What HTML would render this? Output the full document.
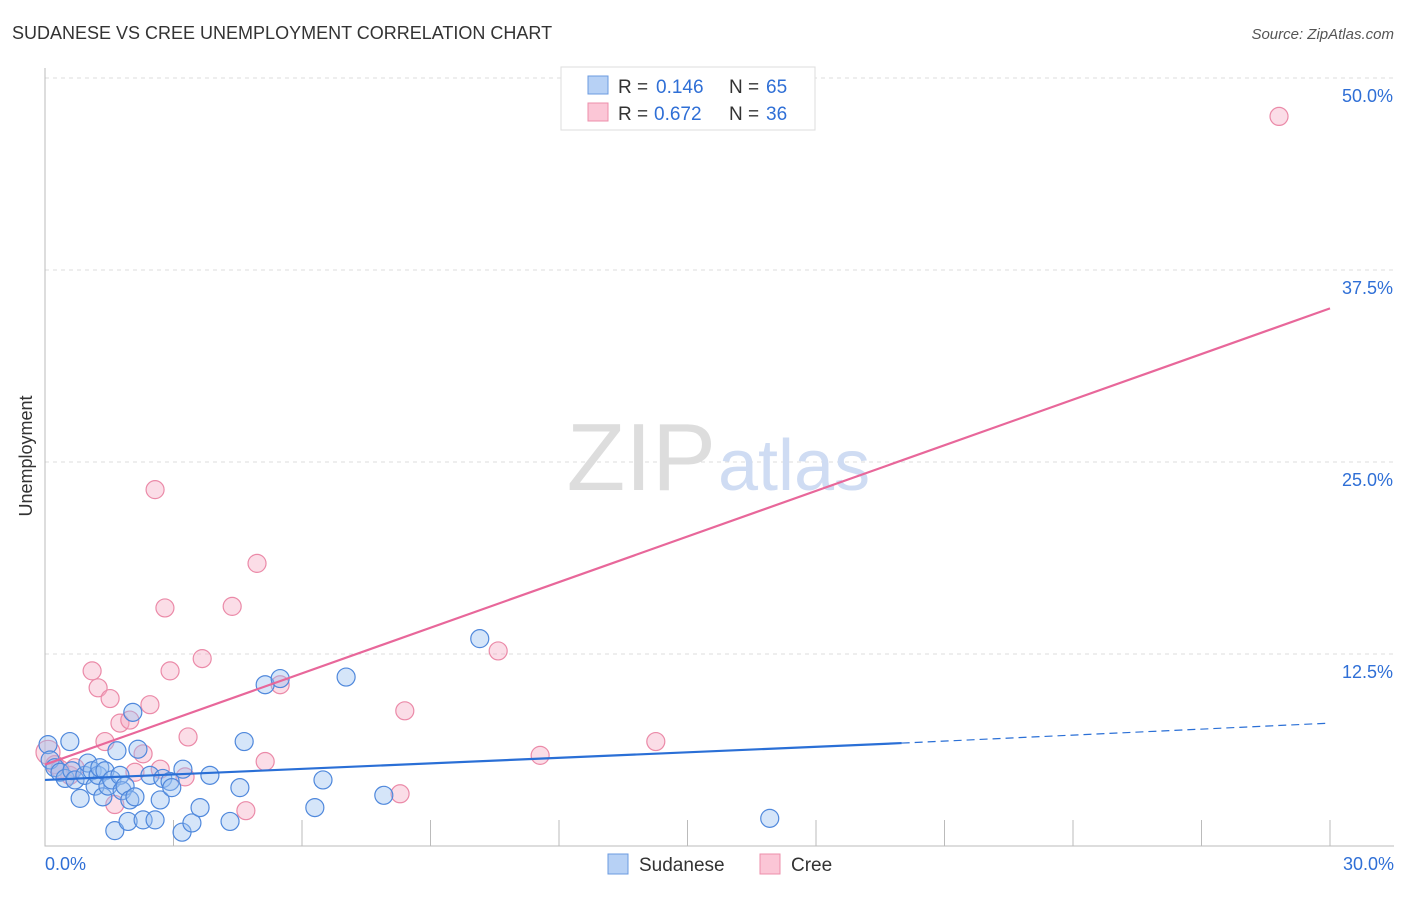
<!DOCTYPE html>
<html><head><meta charset="utf-8"><style>
body{margin:0;background:#fff;font-family:"Liberation Sans",sans-serif;}
svg text{font-family:"Liberation Sans",sans-serif;}
</style></head><body>
<svg width="1406" height="892" xmlns="http://www.w3.org/2000/svg">
<text x="12" y="39" font-size="18" fill="#333">SUDANESE VS CREE UNEMPLOYMENT CORRELATION CHART</text>
<text x="1394" y="39" font-size="15" fill="#555" text-anchor="end" font-style="italic">Source: ZipAtlas.com</text>
<text x="32" y="456" font-size="18" fill="#333" text-anchor="middle" transform="rotate(-90 32 456)">Unemployment</text>
<g id="grid"></g>
<text x="716" y="490" font-size="96" fill="#ddd" text-anchor="end" font-family="Liberation Serif">ZIP</text>
<text x="718" y="490" font-size="72" fill="#cfdcf3">atlas</text>
<g id="pts"></g>
<g id="lines"></g>
<g>
<rect x="561" y="67" width="254" height="63" fill="#fff" stroke="#ddd"/>
<rect x="588" y="76" width="20" height="18" fill="#b7d1f5" stroke="#6b9be0"/>
<rect x="588" y="103" width="20" height="18" fill="#fbc6d6" stroke="#ec8fab"/>
<text x="618" y="93" font-size="19" fill="#333">R =</text>
<text x="656" y="93" font-size="19" fill="#2f6fd6">0.146</text>
<text x="729" y="93" font-size="19" fill="#333">N =</text>
<text x="766" y="93" font-size="19" fill="#2f6fd6">65</text>
<text x="618" y="120" font-size="19" fill="#333">R =</text>
<text x="654" y="120" font-size="19" fill="#2f6fd6">0.672</text>
<text x="729" y="120" font-size="19" fill="#333">N =</text>
<text x="766" y="120" font-size="19" fill="#2f6fd6">36</text>
</g>
<g>
<rect x="608" y="854" width="20" height="20" fill="#b7d1f5" stroke="#6b9be0"/>
<text x="639" y="871" font-size="19" fill="#333">Sudanese</text>
<rect x="760" y="854" width="20" height="20" fill="#fbc6d6" stroke="#ec8fab"/>
<text x="791" y="871" font-size="19" fill="#333">Cree</text>
</g>
<text x="45" y="870" font-size="18" fill="#2f6fd6">0.0%</text>
<text x="1394" y="870" font-size="18" fill="#2f6fd6" text-anchor="end">30.0%</text>
</svg>
<script>
const yTicks=[12.5,25,37.5,50];
const yTickLabels=["12.5%","25.0%","37.5%","50.0%"];
const xTicks=[3,6,9,12,15,18,21,24,27,30];
const sudX=[0.07,0.12,0.23,0.35,0.47,0.58,0.63,0.7,0.82,0.93,1.0,1.1,1.17,1.24,1.28,1.35,1.4,1.47,1.56,1.63,1.68,1.75,1.8,1.87,1.94,1.98,2.05,2.1,2.17,2.29,2.45,2.57,2.69,2.75,2.92,2.96,3.2,3.22,3.43,3.62,3.85,4.32,4.55,4.65,5.14,5.49,6.3,6.49,7.03,7.91,10.15,16.92];
const sudY=[6.6,5.6,5.1,4.8,4.4,6.8,4.9,4.3,3.1,4.6,5.4,4.9,3.9,4.6,5.1,3.2,4.9,3.9,4.3,1.0,6.2,4.6,3.6,3.9,1.6,3.0,8.7,3.2,6.3,1.7,4.6,1.7,3.0,4.4,4.2,3.8,0.9,5.0,1.5,2.5,4.6,1.6,3.8,6.8,10.5,10.9,2.5,4.3,11.0,3.3,13.5,1.8];
const creeX=[0.07,0.23,0.35,0.58,0.7,1.1,1.24,1.4,1.52,1.63,1.75,1.98,2.1,2.29,2.45,2.57,2.69,2.8,2.92,3.27,3.34,3.67,4.37,4.69,4.95,5.14,5.49,8.4,8.29,10.58,11.56,14.26,28.81];
const creeY=[6.1,5.3,5.0,4.6,5.1,11.4,10.3,6.8,9.6,2.7,8.0,8.2,4.8,6.0,9.2,23.2,5.0,15.5,11.4,4.5,7.1,12.2,15.6,2.3,18.4,5.5,10.5,8.8,3.4,12.7,5.9,6.8,47.5];
const sudLine=[[0,4.3],[20,6.7]], sudDash=[[20,6.7],[30,8.0]], creeLine=[[0,5.3],[30,35.0]];
const sx=v=>45+v/30*1285, sy=v=>846-v/50*768;
const NS="http://www.w3.org/2000/svg";
function mk(t,a,p){const e=document.createElementNS(NS,t);for(const k in a)e.setAttribute(k,a[k]);p.appendChild(e);return e;}
const g=document.getElementById('grid');
yTicks.forEach((t,i)=>{
 const l=mk('line',{x1:45,x2:1394,y1:sy(t),y2:sy(t),stroke:'#ddd','stroke-dasharray':'4,4'},g);
 
 
 const tx=mk('text',{x:1393,y:sy(t)+24,'font-size':18,fill:'#2f6fd6','text-anchor':'end'},g);
 tx.textContent=yTickLabels[i];
 
 
});
const ax=mk('path',{d:`M45,68 V846 H1394`,stroke:'#bbb',fill:'none'},g);


xTicks.forEach(t=>{const l=mk('line',{x1:sx(t),x2:sx(t),y1:820,y2:846,stroke:'#bbb'},g);
 
 });
const P=document.getElementById('pts');
creeX.forEach((x,i)=>{const c=mk('circle',{cx:sx(x),cy:sy(creeY[i]),r:i==0?12:9,fill:'rgba(246,170,194,0.4)',stroke:'#eb8aa8','stroke-width':1.2},P);
 
 });
sudX.forEach((x,i)=>{const c=mk('circle',{cx:sx(x),cy:sy(sudY[i]),r:9,fill:'rgba(150,190,240,0.4)',stroke:'#4f88dc','stroke-width':1.2},P);
 
 });
const L=document.getElementById('lines');
const a=mk('line',{x1:sx(creeLine[0][0]),y1:sy(creeLine[0][1]),x2:sx(creeLine[1][0]),y2:sy(creeLine[1][1]),stroke:'#e8679a','stroke-width':2.2},L);


const b=mk('line',{x1:sx(sudLine[0][0]),y1:sy(sudLine[0][1]),x2:sx(sudLine[1][0]),y2:sy(sudLine[1][1]),stroke:'#2a6fd6','stroke-width':2.2},L);


const d=mk('line',{x1:sx(sudDash[0][0]),y1:sy(sudDash[0][1]),x2:sx(sudDash[1][0]),y2:sy(sudDash[1][1]),stroke:'#2a6fd6','stroke-width':1.2,'stroke-dasharray':'8,5'},L);


</script>
</body></html>
